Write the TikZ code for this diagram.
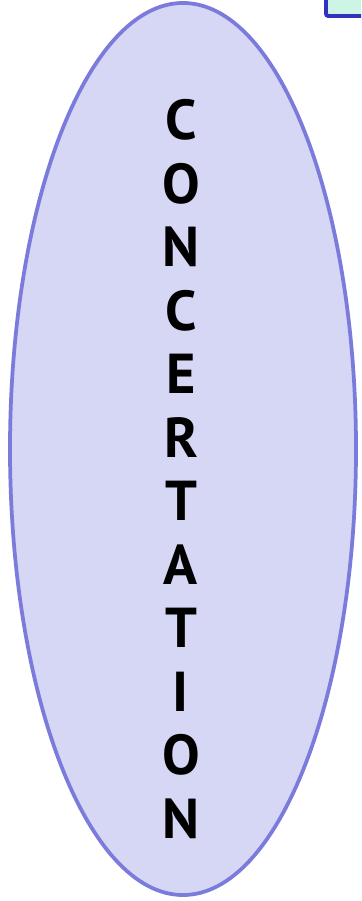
\documentclass[tikz,border=0pt]{standalone}
\usepackage{fontspec}
\setmainfont{PT Sans}
\usetikzlibrary{shapes.geometric}
\definecolor{ovalfill}{HTML}{D6D6F5}
\definecolor{ovalline}{HTML}{7B7BDC}
\definecolor{boxfill}{HTML}{CCF5E5}
\definecolor{boxline}{HTML}{3232BE}
\tikzset{
  letter/.style={font=\fontsize{48}{48}\selectfont\bfseries, inner sep=0pt, anchor=center},
  oval/.style={ellipse, draw=ovalline, fill=ovalfill, line width=3.2pt, inner sep=0pt}
}
\begin{document}
\begin{tikzpicture}[x=0.03cm,y=-0.03cm]
\useasboundingbox (0,0) rectangle (361,901);
\clip (0,0) rectangle (361,901);
% box peeking in at the top right
\draw[boxline, fill=boxfill, line width=3.4pt, rounded corners=2pt] (326,-30) rectangle (420,16);
% the oval
\node[oval, minimum width=10.38cm, minimum height=26.76cm] (oval) at (183,449) {};
% the word, one letter per row
\foreach \ch [count=\i from 0] in {C,O,N,C,E,R,T,A,T,I,O,N}
  \node[letter] (l\i) at (181,120+63.5*\i) {\ch};
\end{tikzpicture}
\end{document}
